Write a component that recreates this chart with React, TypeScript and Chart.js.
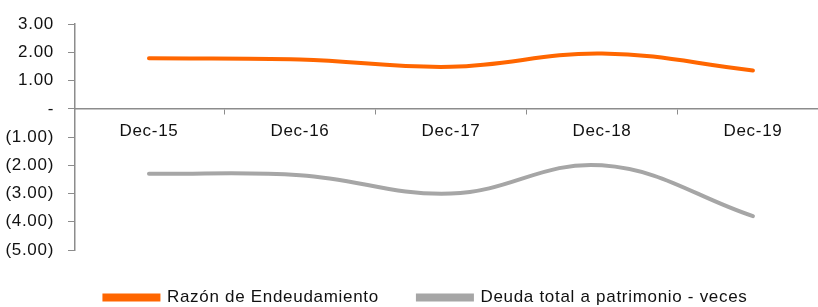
import React, { useEffect, useRef } from "react";
import { Chart, registerables } from "chart.js";

Chart.register(...registerables);

const categories = ["Dec-15", "Dec-16", "Dec-17", "Dec-18", "Dec-19"];
const razonEndeudamiento = [1.79, 1.75, 1.49, 1.96, 1.36];
const deudaPatrimonio = [-2.3, -2.35, -3.0, -2.0, -3.8];
const yTickValues = [3, 2, 1, 0, -1, -2, -3, -4, -5];

const FONT = "'Liberation Sans', Arial, sans-serif";
const FONT_SIZE = 17;
const LETTER_SPACING = "0.7px";

function fmt(v: number): string {
  if (Math.abs(v) < 1e-9) return "-";
  if (v < 0) return `(${Math.abs(v).toFixed(2)})`;
  return v.toFixed(2);
}

const spacingPlugin = {
  id: "letterSpacing",
  beforeUpdate(chart: any) {
    chart.ctx.letterSpacing = LETTER_SPACING;
  },
  beforeDraw(chart: any) {
    chart.ctx.letterSpacing = LETTER_SPACING;
  },
};

export default function App() {
  const ref = useRef<HTMLCanvasElement | null>(null);
  useEffect(() => {
    if (!ref.current) return;
    const chart = new Chart(ref.current, {
      type: "line",
      plugins: [spacingPlugin],
      data: {
        datasets: [
          {
            label: "Razón de Endeudamiento",
            data: razonEndeudamiento.map((v, i) => ({ x: i, y: v })),
            borderColor: "#FF6600",
            backgroundColor: "#FF6600",
            borderWidth: 4,
            pointRadius: 0,
            tension: 0.4,
            borderCapStyle: "round",
          },
          {
            label: "Deuda total a patrimonio - veces",
            data: deudaPatrimonio.map((v, i) => ({ x: i, y: v })),
            borderColor: "#A6A6A6",
            backgroundColor: "#A6A6A6",
            borderWidth: 4,
            pointRadius: 0,
            tension: 0.4,
            borderCapStyle: "round",
          },
        ],
      },
      options: {
        responsive: false,
        animation: false,
        layout: { padding: { top: 15, right: 0, left: 0, bottom: -9 } },
        plugins: {
          tooltip: { enabled: false },
          legend: {
            position: "bottom",
            labels: {
              boxWidth: 54,
              boxHeight: 4,
              color: "#111",
              padding: 39,
              font: { family: FONT, size: FONT_SIZE },
            },
          },
        },
        scales: {
          x: {
            type: "linear",
            position: { y: 0 },
            min: -0.49,
            max: 4.656,
            afterBuildTicks: (scale: any) => {
              scale.ticks = categories.map((_, i) => ({ value: i }));
            },
            ticks: {
              autoSkip: false,
              maxRotation: 0,
              color: "#111",
              padding: 7,
              font: { family: FONT, size: FONT_SIZE },
              callback: (v: any) => categories[Math.round(Number(v))] ?? "",
            },
            grid: {
              offset: true,
              drawOnChartArea: false,
              drawTicks: true,
              tickLength: 5,
              color: "#8C8C8C",
            },
            border: { color: "#8C8C8C", width: 1.5 },
          },
          y: {
            type: "linear",
            min: -5,
            max: 3,
            afterBuildTicks: (scale: any) => {
              scale.ticks = yTickValues.map((v) => ({ value: v }));
            },
            afterFit: (scale: any) => {
              scale.width = 75;
            },
            ticks: {
              color: "#111",
              padding: 14,
              font: { family: FONT, size: FONT_SIZE },
              callback: (v: any) => fmt(Number(v)),
            },
            grid: {
              drawOnChartArea: false,
              drawTicks: true,
              tickLength: 7,
              color: "#8C8C8C",
            },
            border: { color: "#8C8C8C", width: 1.5 },
          },
        },
      },
    });
    return () => chart.destroy();
  }, []);
  return (
    <div
      style={{
        position: "absolute",
        left: 0,
        top: 0,
        width: 818,
        height: 307,
        overflow: "hidden",
        background: "#fff",
      }}
    >
      <canvas ref={ref} width={852} height={307} />
    </div>
  );
}
